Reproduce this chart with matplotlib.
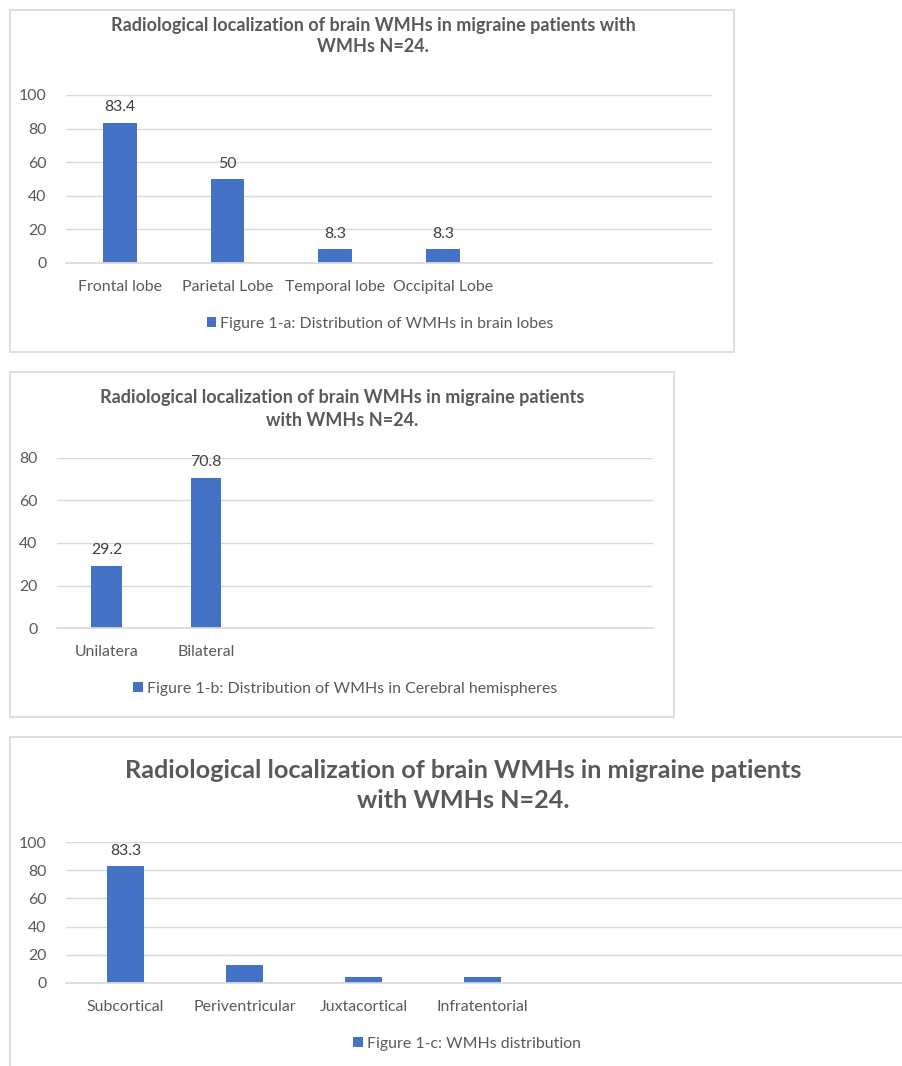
import matplotlib
matplotlib.use("Agg")
import matplotlib.pyplot as plt
from matplotlib.patches import Rectangle

plt.rcParams['font.family'] = ['Lato', 'DejaVu Sans']

TITLE = "Radiological localization of brain WMHs in migraine patients"

# Figure 1-a: brain lobes
lobes = ["Frontal lobe", "Parietal Lobe", "Temporal lobe", "Occipital Lobe", "", ""]
lobe_values = [83.4, 50, 8.3, 8.3, None, None]
lobe_ticks = [0, 20, 40, 60, 80, 100]

# Figure 1-b: hemispheres
sides = ["Unilatera", "Bilateral", "", "", "", ""]
side_values = [29.2, 70.8, None, None, None, None]
side_ticks = [0, 20, 40, 60, 80]

# Figure 1-c: WMHs distribution
regions = ["Subcortical", "Periventricular", "Juxtacortical", "Infratentorial", "", "", ""]
region_values = [83.3, 12.5, 4.2, 4.2, None, None, None]
region_labels = ["83.3", "", "", ""]
region_ticks = [0, 20, 40, 60, 80, 100]

BAR = "#4472C4"
TEXT = "#595959"
GRID = "#D9D9D9"
W, H = 903, 1066

fig = plt.figure(figsize=(W / 100, H / 100), dpi=100)
fig.patch.set_facecolor("white")


def fx(x):
    return x / W


def fy(y):
    return 1 - y / H


def box(x0, y0, x1, y1):
    fig.patches.append(Rectangle((fx(x0), fy(y1)), fx(x1 - x0), (y1 - y0) / H,
                                 transform=fig.transFigure, fill=False,
                                 edgecolor=GRID, linewidth=1.2))


def panel(px0, px1, py_top, py_zero, ymax, ncat, cats, vals, ticks, labels,
          legend, legend_xy, tick_size, width):
    ax = fig.add_axes([fx(px0), fy(py_zero), fx(px1 - px0), (py_zero - py_top) / H])
    xs = list(range(len(vals)))
    heights = [v if v is not None else 0 for v in vals]
    bars = ax.bar(xs, heights, width=width, color=BAR, label=legend, zorder=3)
    for b, lab in zip(bars, labels):
        if lab:
            ax.text(b.get_x() + b.get_width() / 2, b.get_height() + ymax * 0.05,
                    lab, ha="center", va="bottom", fontsize=tick_size, color="#404040")
    ax.set_xlim(-0.5, -0.5 + ncat)
    ax.set_ylim(0, ymax)
    ax.set_yticks(ticks)
    ax.set_xticks(range(len(cats)))
    ax.set_xticklabels(cats)
    ax.tick_params(axis="both", length=0, colors=TEXT, labelsize=tick_size)
    ax.tick_params(axis="x", pad=12)
    ax.tick_params(axis="y", pad=14)
    ax.grid(axis="y", color=GRID, linewidth=1.0, zorder=0)
    for s in ("top", "right", "left"):
        ax.spines[s].set_visible(False)
    ax.spines["bottom"].set_color(GRID)
    ax.spines["bottom"].set_linewidth(1.2)
    ax.spines["bottom"].set_zorder(4)
    ax.set_facecolor("none")
    fig.legend(handles=[bars], labels=[legend], loc="center",
               bbox_to_anchor=(fx(legend_xy[0]), fy(legend_xy[1])),
               frameon=False, fontsize=tick_size, labelcolor=TEXT,
               handlelength=0.6, handleheight=0.6, handletextpad=0.25)
    return ax


FS = 11.4

# Panel 1-a
box(10, 10, 734, 352)
fig.text(fx(373), fy(25), TITLE + " with", ha="center", va="center",
         fontsize=13, fontweight="bold", color=TEXT)
fig.text(fx(373), fy(47), "WMHs N=24.", ha="center", va="center",
         fontsize=13, fontweight="bold", color=TEXT)
panel(66, 712, 95, 263, 100, 6, lobes, lobe_values, lobe_ticks,
      [f"{v:g}" for v in lobe_values if v is not None],
      "Figure 1-a: Distribution of WMHs in brain lobes", (380, 324), FS, 0.31)

# Panel 1-b
box(10, 372, 674, 717)
fig.text(fx(342), fy(398), TITLE, ha="center", va="center",
         fontsize=13, fontweight="bold", color=TEXT)
fig.text(fx(342), fy(420), "with WMHs N=24.", ha="center", va="center",
         fontsize=13, fontweight="bold", color=TEXT)
panel(57, 653, 458, 628, 80, 6, sides, side_values, side_ticks,
      [f"{v:g}" for v in side_values if v is not None],
      "Figure 1-b: Distribution of WMHs in Cerebral hemispheres", (345, 689), FS, 0.31)

# Panel 1-c
box(10, 737, 920, 1080)
fig.text(fx(463), fy(770), TITLE, ha="center", va="center",
         fontsize=18.2, fontweight="bold", color=TEXT)
fig.text(fx(463), fy(800), "with WMHs N=24.", ha="center", va="center",
         fontsize=18.2, fontweight="bold", color=TEXT)
panel(66, 905, 842, 983, 100, 839 / 119, regions, region_values, region_ticks,
      region_labels, "Figure 1-c: WMHs distribution", (467, 1044), FS, 0.31)

fig.savefig("out.png", dpi=100, facecolor="white")
